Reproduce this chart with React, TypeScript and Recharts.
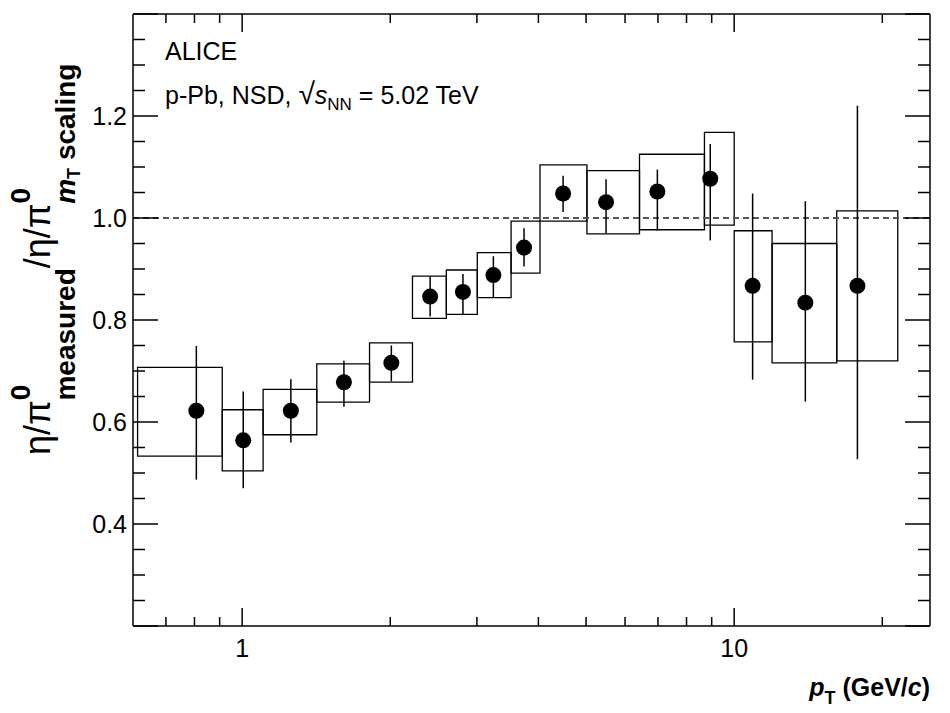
import React from "react";
import {
  ComposedChart, Scatter, XAxis, YAxis, ReferenceArea, ReferenceLine, ErrorBar, Customized,
} from "recharts";

const ptCenters = [0.807, 1.005, 1.256, 1.61, 2.01, 2.41, 2.81, 3.24, 3.74, 4.49, 5.49, 6.98, 8.94, 10.9, 13.95, 17.8];
const ratio = [0.622, 0.564, 0.622, 0.678, 0.716, 0.846, 0.855, 0.888, 0.942, 1.048, 1.031, 1.052, 1.077, 0.867, 0.834, 0.867];
const statHigh = [0.749, 0.66, 0.684, 0.72, 0.75, 0.885, 0.89, 0.925, 0.98, 1.083, 1.076, 1.095, 1.145, 1.048, 1.033, 1.22];
const statLow = [0.487, 0.47, 0.56, 0.63, 0.68, 0.807, 0.81, 0.845, 0.905, 1.012, 0.97, 0.975, 0.956, 0.683, 0.64, 0.527];
const binEdges = [0.613, 0.911, 1.103, 1.418, 1.815, 2.219, 2.6, 3.005, 3.52, 4.03, 5.02, 6.42, 8.7, 10, 11.94, 16.16, 21.5];
const sysHigh = [0.707, 0.624, 0.664, 0.714, 0.755, 0.886, 0.898, 0.932, 0.994, 1.104, 1.093, 1.125, 1.168, 0.975, 0.95, 1.014];
const sysLow = [0.533, 0.504, 0.575, 0.639, 0.678, 0.803, 0.811, 0.844, 0.892, 0.994, 0.969, 0.977, 0.986, 0.757, 0.716, 0.72];

const xTicks = [0.7, 0.8, 0.9, 1, 2, 3, 4, 5, 6, 7, 8, 9, 10, 20];
const xLabels: Record<string, string> = { "1": "1", "10": "10" };
const yTicks = Array.from({ length: 25 }, (_, i) => Math.round((0.2 + i * 0.05) * 100) / 100);
const yLabels: Record<string, string> = { "0.4": "0.4", "0.6": "0.6", "0.8": "0.8", "1": "1.0", "1.2": "1.2" };

const data = ptCenters.map((x, i) => ({
  x, y: ratio[i], err: [ratio[i] - statLow[i], statHigh[i] - ratio[i]],
}));

const FONT = "'Liberation Sans', Arial, sans-serif";

const XTick = (dir: number) => (p: any) => {
  const v = p.payload.value;
  const major = v === 1 || v === 10;
  const len = major ? 18 : 9;
  return (
    <g>
      <line x1={p.x} x2={p.x} y1={p.y} y2={p.y - dir * len} stroke="#000" strokeWidth={1.5} />
      {dir === 1 && xLabels[String(v)] && (
        <text x={p.x} y={p.y + 31} textAnchor="middle" fontSize={25} fontFamily={FONT} fill="#000">{xLabels[String(v)]}</text>
      )}
    </g>
  );
};

const YTick = (dir: number) => (p: any) => {
  const v = Math.round(p.payload.value * 100) / 100;
  const major = Math.abs(Math.round(v * 10) - v * 10) < 1e-6 && Math.round(v * 10) % 2 === 0;
  const len = major ? 25 : 12;
  return (
    <g>
      <line x1={p.x} x2={p.x + dir * len} y1={p.y} y2={p.y} stroke="#000" strokeWidth={1.5} />
      {dir === 1 && yLabels[String(v)] && (
        <text x={p.x - 6} y={p.y + 9} textAnchor="end" fontSize={25} fontFamily={FONT} fill="#000">{yLabels[String(v)]}</text>
      )}
    </g>
  );
};

const Texts = () => (
  <g fontFamily={FONT} fill="#000">
    <text x={165} y={60} fontSize={25}>ALICE</text>
    <text x={165} y={104} fontSize={25}>
      <tspan>p-Pb, NSD, </tspan>
      <tspan fontSize={30}>√</tspan>
      <tspan fontStyle="italic">s</tspan>
      <tspan fontSize={17} dy={6}>NN</tspan>
      <tspan dy={-6}> = 5.02 TeV</tspan>
    </text>
    <text x={930} y={696} fontSize={25} fontWeight="bold" textAnchor="end">
      <tspan fontStyle="italic">p</tspan>
      <tspan fontSize={18} dy={8}>T</tspan>
      <tspan dy={-8}> (GeV/</tspan>
      <tspan fontStyle="italic">c</tspan>
      <tspan>)</tspan>
    </text>
    <text transform="translate(50,455) rotate(-90)" fontSize={36}>
      <tspan>η/π</tspan>
      <tspan fontSize={28} fontWeight="bold" dy={-20}>0</tspan>
      <tspan fontSize={28} fontWeight="bold" dx={-16} dy={45}>measured</tspan>
      <tspan dy={-25}>/η/π</tspan>
      <tspan fontSize={28} fontWeight="bold" dy={-20}>0</tspan>
      <tspan fontSize={28} fontWeight="bold" fontStyle="italic" dx={-16} dy={45}>m</tspan>
      <tspan fontSize={18} fontWeight="bold" dy={5}>T</tspan>
      <tspan fontSize={28} fontWeight="bold" dy={-5}> scaling</tspan>
    </text>
  </g>
);

export default function App() {
  return (
    <div style={{ position: "absolute", left: 0, top: 0, background: "#fff" }}>
      <ComposedChart width={950} height={713} data={data} margin={{ left: 132, right: 19, top: 13, bottom: 86 }}>
        <XAxis xAxisId="b" dataKey="x" type="number" scale="log" domain={[0.6, 25]} allowDataOverflow ticks={xTicks}
          tick={XTick(1)} tickLine={false} tickSize={0} tickMargin={0} height={1} axisLine={{ stroke: "#000", strokeWidth: 1.5 }} interval={0} />
        <XAxis xAxisId="t" orientation="top" dataKey="x" type="number" scale="log" domain={[0.6, 25]} allowDataOverflow ticks={xTicks}
          tick={XTick(-1)} tickLine={false} tickSize={0} tickMargin={0} height={1} axisLine={{ stroke: "#000", strokeWidth: 1.5 }} interval={0} />
        <YAxis yAxisId="l" type="number" domain={[0.2, 1.4]} allowDataOverflow ticks={yTicks} tick={YTick(1)} tickLine={false}
          tickSize={0} tickMargin={0} width={1} axisLine={{ stroke: "#000", strokeWidth: 1.5 }} interval={0} />
        <YAxis yAxisId="r" orientation="right" type="number" domain={[0.2, 1.4]} allowDataOverflow ticks={yTicks} tick={YTick(-1)} tickLine={false}
          tickSize={0} tickMargin={0} width={1} axisLine={{ stroke: "#000", strokeWidth: 1.5 }} interval={0} />
        <ReferenceLine xAxisId="b" yAxisId="l" y={1} stroke="#555" strokeDasharray="6 4" strokeWidth={2} />
        {sysLow.map((lo, i) => (
          <ReferenceArea key={i} xAxisId="b" yAxisId="l" x1={binEdges[i]} x2={binEdges[i + 1]} y1={lo} y2={sysHigh[i]}
            fill="none" fillOpacity={0} stroke="#000" strokeWidth={1.3} ifOverflow="visible" />
        ))}
        <Scatter xAxisId="b" yAxisId="l" dataKey="y" isAnimationActive={false}
          shape={(p: any) => <circle cx={p.cx} cy={p.cy} r={8} fill="#000" />}>
          <ErrorBar dataKey="err" direction="y" width={0} stroke="#000" strokeWidth={1.5} />
        </Scatter>
        <Customized component={Texts} />
      </ComposedChart>
    </div>
  );
}
